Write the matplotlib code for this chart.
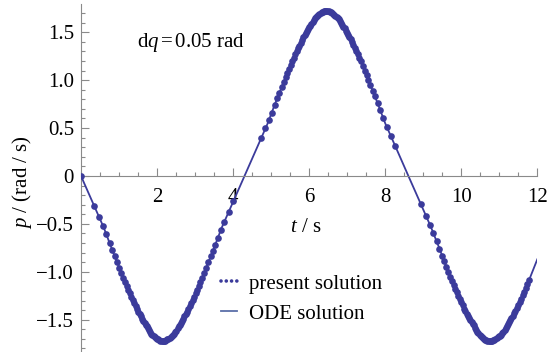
import matplotlib
matplotlib.use("Agg")
import matplotlib.pyplot as plt
from matplotlib.lines import Line2D
from matplotlib.ticker import MultipleLocator, FixedLocator

plt.rcParams['font.family'] = 'Liberation Serif'
plt.rcParams['mathtext.fontset'] = 'custom'
plt.rcParams['mathtext.rm'] = 'Liberation Serif'
plt.rcParams['mathtext.it'] = 'Liberation Serif:italic'

# ODE solution p(t)
line_t = [0, 0.2, 0.4, 0.6, 0.8, 1.0, 1.2, 1.4, 1.6, 1.8, 1.9, 2.0, 2.1, 2.2, 2.3, 2.4, 2.5, 2.7, 2.9,
          3.1, 3.3, 3.5, 3.7, 3.9, 4.1, 4.3, 4.5, 4.7, 4.9, 5.1, 5.3, 5.5, 5.7, 5.9, 6.1, 6.2, 6.3, 6.4,
          6.5, 6.6, 6.7, 6.8, 7.0, 7.2, 7.4, 7.6, 7.8, 8.0, 8.2, 8.4, 8.61, 8.8, 9.0, 9.2, 9.4, 9.6,
          9.8, 10.0, 10.2, 10.4, 10.5, 10.6, 10.7, 10.8, 10.9, 11.0, 11.1, 11.2, 11.4, 11.6, 11.8, 12.0]
line_p = [0, -0.18, -0.36, -0.54, -0.75, -0.95, -1.15, -1.33, -1.48, -1.62, -1.67, -1.70, -1.72, -1.72,
          -1.70, -1.67, -1.62, -1.48, -1.33, -1.15, -0.95, -0.75, -0.54, -0.36, -0.18, 0, 0.18, 0.36,
          0.54, 0.75, 0.95, 1.15, 1.33, 1.48, 1.62, 1.67, 1.70, 1.72, 1.72, 1.70, 1.67, 1.62, 1.49, 1.34,
          1.16, 0.96, 0.76, 0.55, 0.37, 0.19, 0, -0.17, -0.35, -0.53, -0.73, -0.94, -1.14, -1.32, -1.47,
          -1.61, -1.66, -1.70, -1.72, -1.72, -1.705, -1.675, -1.63, -1.57, -1.43, -1.25, -1.07, -0.87]

# present solution, first swing (p < 0)
dots_t1 = [0.00, 0.35, 0.48, 0.58, 0.67, 0.75, 0.82, 0.89, 0.95, 1.01, 1.06, 1.11, 1.16, 1.20, 1.24,
           1.28, 1.32, 1.36, 1.40, 1.44, 1.48, 1.51, 1.55, 1.58, 1.61, 1.64, 1.67, 1.70, 1.73, 1.76,
           1.79, 1.82, 1.85, 1.88, 1.91, 1.94, 1.97, 2.00, 2.03, 2.06, 2.09, 2.12, 2.15, 2.18, 2.21,
           2.24, 2.27, 2.30, 2.33, 2.36, 2.39, 2.42, 2.45, 2.48, 2.51, 2.54, 2.57, 2.60, 2.63, 2.66,
           2.69, 2.72, 2.75, 2.79, 2.82, 2.86, 2.90, 2.94, 2.98, 3.02, 3.06, 3.10, 3.14, 3.19, 3.24,
           3.29, 3.35, 3.41, 3.47, 3.53, 3.60, 3.68, 3.77, 3.88, 4.01]
dots_p1 = [0, -0.31, -0.43, -0.52, -0.61, -0.70, -0.77, -0.84, -0.90, -0.96, -1.01, -1.06, -1.11, -1.15,
           -1.19, -1.225, -1.26, -1.295, -1.33, -1.36, -1.39, -1.42, -1.445, -1.465, -1.49, -1.51, -1.53,
           -1.55, -1.57, -1.59, -1.61, -1.63, -1.645, -1.66, -1.67, -1.68, -1.69, -1.70, -1.705, -1.71,
           -1.72, -1.72, -1.72, -1.72, -1.72, -1.71, -1.705, -1.70, -1.69, -1.68, -1.67, -1.66, -1.645,
           -1.63, -1.615, -1.59, -1.57, -1.55, -1.53, -1.51, -1.49, -1.465, -1.445, -1.42, -1.39, -1.36,
           -1.33, -1.295, -1.26, -1.225, -1.19, -1.15, -1.11, -1.06, -1.01, -0.96, -0.90, -0.84, -0.78,
           -0.72, -0.645, -0.56, -0.48, -0.38, -0.26]

# second swing (p > 0)
dots_t2 = [4.74, 4.85, 4.94, 5.02, 5.09, 5.16, 5.22, 5.28, 5.33, 5.38, 5.43, 5.47, 5.51, 5.55, 5.59,
           5.63, 5.67, 5.71, 5.74, 5.78, 5.81, 5.85, 5.88, 5.91, 5.94, 5.97, 6.00, 6.03, 6.06, 6.09,
           6.12, 6.15, 6.18, 6.21, 6.24, 6.27, 6.30, 6.33, 6.36, 6.39, 6.42, 6.45, 6.48, 6.51, 6.54,
           6.57, 6.60, 6.63, 6.66, 6.69, 6.72, 6.75, 6.78, 6.81, 6.84, 6.87, 6.90, 6.93, 6.96, 6.99,
           7.02, 7.05, 7.09, 7.12, 7.16, 7.20, 7.24, 7.28, 7.32, 7.36, 7.41, 7.46, 7.51, 7.56, 7.61,
           7.67, 7.73, 7.80, 7.87, 7.95, 8.04, 8.14, 8.26]
dots_p2 = [0.40, 0.50, 0.58, 0.66, 0.74, 0.81, 0.87, 0.93, 0.98, 1.03, 1.08, 1.12, 1.16, 1.20, 1.23,
           1.27, 1.30, 1.34, 1.36, 1.39, 1.42, 1.45, 1.47, 1.49, 1.51, 1.53, 1.55, 1.57, 1.59, 1.61,
           1.63, 1.645, 1.66, 1.67, 1.68, 1.69, 1.70, 1.71, 1.715, 1.72, 1.72, 1.72, 1.72, 1.72, 1.715,
           1.71, 1.70, 1.69, 1.68, 1.67, 1.66, 1.65, 1.635, 1.62, 1.60, 1.58, 1.555, 1.54, 1.515, 1.495,
           1.47, 1.455, 1.425, 1.40, 1.37, 1.34, 1.30, 1.27, 1.23, 1.195, 1.15, 1.10, 1.05, 1.00, 0.95,
           0.89, 0.83, 0.76, 0.69, 0.60, 0.51, 0.42, 0.31]

# third swing (p < 0)
dots_t3 = [8.94, 9.08, 9.18, 9.27, 9.35, 9.42, 9.49, 9.55, 9.61, 9.66, 9.71, 9.76, 9.80, 9.84, 9.88,
           9.92, 9.96, 10.00, 10.04, 10.08, 10.11, 10.15, 10.18, 10.21, 10.24, 10.27, 10.30, 10.33,
           10.36, 10.39, 10.42, 10.45, 10.48, 10.51, 10.54, 10.57, 10.60, 10.63, 10.66, 10.69, 10.72,
           10.75, 10.78, 10.81, 10.84, 10.87, 10.90, 10.93, 10.96, 10.99, 11.02, 11.05, 11.08, 11.11,
           11.14, 11.17, 11.20, 11.23, 11.26, 11.29, 11.32, 11.35, 11.39, 11.42, 11.46, 11.50, 11.54,
           11.58, 11.62, 11.66, 11.70, 11.74, 11.78]
dots_p3 = [-0.295, -0.42, -0.515, -0.60, -0.68, -0.76, -0.83, -0.89, -0.95, -1.00, -1.05, -1.10, -1.14,
           -1.18, -1.21, -1.25, -1.285, -1.32, -1.35, -1.39, -1.41, -1.44, -1.46, -1.48, -1.50, -1.52,
           -1.545, -1.56, -1.585, -1.61, -1.625, -1.64, -1.655, -1.67, -1.68, -1.69, -1.70, -1.71,
           -1.715, -1.72, -1.72, -1.72, -1.72, -1.72, -1.715, -1.71, -1.70, -1.695, -1.685, -1.675,
           -1.67, -1.655, -1.64, -1.625, -1.61, -1.585, -1.565, -1.545, -1.52, -1.50, -1.48, -1.46,
           -1.43, -1.41, -1.38, -1.35, -1.31, -1.28, -1.24, -1.21, -1.17, -1.13, -1.09]

blue = '#3b3b9b'
gray = '#8a8a8a'
fs = 15

fig = plt.figure(figsize=(5.57, 3.52), dpi=100)
ax = fig.add_axes([81 / 557, 0, 456.3 / 557, 348 / 352])

ax.plot(line_t, line_p, color=blue, lw=1.3, zorder=2)
for t, p in [(dots_t1, dots_p1), (dots_t2, dots_p2), (dots_t3, dots_p3)]:
    ax.plot(t, p, 'o', color=blue, ms=4.8, mec='none', zorder=3)

ax.set_xlim(0, 12)
ax.set_ylim(-1.837, 1.795)

# axes through the origin, no frame
for side in ['top', 'right']:
    ax.spines[side].set_visible(False)
ax.spines['left'].set_position(('data', 0))
ax.spines['bottom'].set_position(('data', 0))
ax.spines['left'].set_color(gray)
ax.spines['bottom'].set_color(gray)

ax.xaxis.set_major_locator(FixedLocator([2, 4, 6, 8, 10, 12]))
ax.xaxis.set_minor_locator(MultipleLocator(0.5))
ax.set_yticks([-1.5, -1.0, -0.5, 0, 0.5, 1.0, 1.5])
ax.set_yticklabels(['\u22121.5', '\u22121.0', '\u22120.5', '0', '0.5', '1.0', '1.5'])
ax.yaxis.set_minor_locator(MultipleLocator(0.1))
ax.tick_params(which='both', direction='in', color=gray, width=0.8, labelsize=fs)
ax.tick_params(which='major', length=5.5)
ax.tick_params(which='minor', length=3)
ax.tick_params(axis='x', pad=8.5)
ax.tick_params(axis='y', pad=5)
ax.patch.set_alpha(0)

fig.text(306 / 557, 1 - 228 / 352, r'$t$ / s', ha='center', va='center', fontsize=fs)
fig.text(22 / 557, 1 - 182 / 352, r'$p$ / (rad / s)', ha='center', va='center',
         rotation=90, fontsize=fs)
fig.text(137 / 557, 1 - 42 / 352, r'd$q\,$=$\,$0.05 rad', ha='left', va='center', fontsize=fs)

# legend keys: a row of round dots and a plain line
dot_key = Line2D([], [], color=blue, lw=2.6, ls=(0, (0.01, 1.45)), dash_capstyle='round')
line_key = Line2D([], [], color='#5a6ea8', lw=1.3)
fig.legend([dot_key, line_key], ['present solution', 'ODE solution'], loc='upper left',
           bbox_to_anchor=(221 / 557, 1 - 274 / 352), frameon=False, fontsize=fs,
           handlelength=0.75, handletextpad=0.6, labelspacing=0.5,
           borderpad=0, borderaxespad=0)

fig.savefig('out.png', dpi=100)
